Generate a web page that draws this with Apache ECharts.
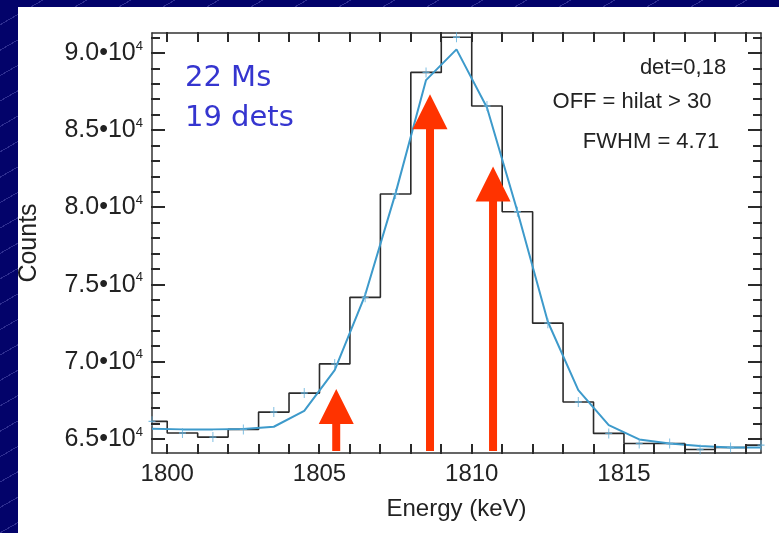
<!DOCTYPE html>
<html><head><meta charset="utf-8">
<script src="https://cdn.jsdelivr.net/npm/echarts@6/dist/echarts.min.js"></script>
<style>
html,body{margin:0;padding:0;width:779px;height:533px;overflow:hidden;}
body{background-color:#03036a;background-image:repeating-linear-gradient(150deg, rgba(0,0,0,0) 0px, rgba(0,0,0,0) 21px, rgba(100,100,190,0.45) 21px, rgba(100,100,190,0.45) 22px);}
#panel{position:absolute;left:18px;top:7px;width:761px;height:526px;background:#ffffff;}
#chart{position:absolute;left:0;top:0;width:779px;height:533px;}
</style></head><body><div id="panel"></div><div id="chart"></div>
<script>
// ---- data ----
const energy = [1799.5,1800.5,1801.5,1802.5,1803.5,1804.5,1805.5,1806.5,1807.5,1808.5,1809.5,1810.5,1811.5,1812.5,1813.5,1814.5,1815.5,1816.5,1817.5,1818.5,1819.5];
const counts = [66150,65400,65130,65630,66750,67980,69870,74180,80870,88750,91020,86570,79720,72510,67400,65370,64720,64720,64330,64460,64610];
const fit    = [65670,65630,65630,65650,65800,66830,69470,74330,80930,88250,90240,86480,79760,72600,68170,65900,64980,64720,64550,64460,64460];
const arrowX   = [1805.55, 1808.63, 1810.7];
const arrowTop = [68250, 87340, 82660];
const xRange = [1799.5, 1819.5];
const yRange = [64100, 91300];
const xLabelTicks = [1800,1805,1810,1815];
const xMinorTicks = [1800,1801,1802,1803,1804,1805,1806,1807,1808,1809,1810,1811,1812,1813,1814,1815,1816,1817,1818,1819];
const yMajorTicks = [65000,70000,75000,80000,85000,90000];
const yMinorTicks = [65000,66000,67000,68000,69000,70000,71000,72000,73000,74000,75000,76000,77000,78000,79000,80000,81000,82000,83000,84000,85000,86000,87000,88000,89000,90000,91000];
const xName = 'Energy (keV)';
const yName = 'Counts';
const noteLeft = ['22 Ms','19 dets'];
const noteRight = ['det=0,18','OFF = hilat > 30','FWHM = 4.71'];

// ---- chart ----
const FONT = "'Liberation Sans', Arial, Helvetica, sans-serif";
const AXC = '#333333';
const TICKC = '#2a2a2a';
const chart = echarts.init(document.getElementById('chart'), null, {renderer:'canvas'});
const axLine = {show:true, onZero:false, lineStyle:{color:AXC, width:1.5}};
function xAx(pos, showLabel){
  return {type:'value', position:pos, min:xRange[0], max:xRange[1],
    axisLine:axLine,
    axisTick:{show:false},
    axisLabel:{show:showLabel, customValues:xLabelTicks, fontSize:24, color:'#222', fontFamily:FONT, margin:9,
      formatter:(v)=>String(v)},
    splitLine:{show:false},
    name: showLabel ? xName : '', nameLocation:'middle', nameGap:44,
    nameTextStyle:{fontSize:24, color:'#222', fontFamily:FONT}};
}
function yAx(pos, showLabel){
  return {type:'value', position:pos, min:yRange[0], max:yRange[1],
    axisLine:axLine,
    axisTick:{show:false},
    axisLabel:{show:showLabel, customValues:yMajorTicks, margin:9,
      formatter:(v)=> '{b|' + (v/1e4).toFixed(1) + '\u202210}{s|4}',
      rich:{b:{fontSize:25, lineHeight:27, color:'#222', fontFamily:FONT},
            s:{fontSize:13, lineHeight:13, color:'#222', fontFamily:FONT, verticalAlign:'top'}}},
    splitLine:{show:false},
    name: showLabel ? yName : '', nameLocation:'middle', nameGap:110, nameRotate:90,
    nameTextStyle:{fontSize:25, color:'#222', fontFamily:FONT}};
}
const notes = [
  {type:'text', x:185, y:78, style:{text:noteLeft[0], fontSize:29, fontFamily:"'Comic Sans MS','DejaVu Sans',sans-serif", fill:'#3535cf', align:'left', verticalAlign:'middle'}, z:100},
  {type:'text', x:185, y:118, style:{text:noteLeft[1], fontSize:29, fontFamily:"'Comic Sans MS','DejaVu Sans',sans-serif", fill:'#3535cf', align:'left', verticalAlign:'middle'}, z:100},
  {type:'text', x:683, y:68, style:{text:noteRight[0], fontSize:22, fontFamily:FONT, fill:'#222', align:'center', verticalAlign:'middle'}, z:100},
  {type:'text', x:632, y:102, style:{text:noteRight[1], fontSize:22, fontFamily:FONT, fill:'#222', align:'center', verticalAlign:'middle'}, z:100},
  {type:'text', x:651, y:142, style:{text:noteRight[2], fontSize:22, fontFamily:FONT, fill:'#222', align:'center', verticalAlign:'middle'}, z:100}
];
const option = {
  animation:false,
  backgroundColor:'transparent',
  grid:{left:152, right:18, top:33, bottom:80, containLabel:false},
  xAxis:[xAx('bottom', true), xAx('top', false)],
  yAxis:[yAx('left', true), yAx('right', false)],
  graphic:notes,
  series:[
    {name:'data', type:'line', step:'middle', xAxisIndex:0, yAxisIndex:0, symbol:'none',
     data: energy.map((e,i)=>[e, counts[i]]), lineStyle:{color:'#2b2b2b', width:1.6}, z:2},
    {name:'fit', type:'line', xAxisIndex:0, yAxisIndex:0, symbol:'none',
     data: energy.map((e,i)=>[e, fit[i]]), lineStyle:{color:'#3d9acb', width:2}, z:3},
    {name:'points', type:'scatter', xAxisIndex:0, yAxisIndex:0,
     symbol:'path://M5,0L5,10M0,5L10,5', symbolSize:[7,10],
     itemStyle:{color:'rgba(0,0,0,0)', borderColor:'#62b0dc', borderWidth:1.2},
     data: energy.map((e,i)=>[e, counts[i]]), z:4},
    {name:'arrows', type:'custom', xAxisIndex:0, yAxisIndex:0, clip:false, z:10,
     data: arrowX.map((x,i)=>[x, arrowTop[i]]),
     renderItem:(params, api)=>{
       const top = api.coord([api.value(0), api.value(1)]);
       const bot = api.coord([api.value(0), yRange[0]]);
       const hl = 35, hw = 17.5, sw = 4;
       return {type:'group', children:[
         {type:'rect', shape:{x:top[0]-sw, y:top[1]+hl-1, width:2*sw, height:(bot[1]-2)-(top[1]+hl-1)}, style:{fill:'#ff3300'}},
         {type:'polygon', shape:{points:[[top[0],top[1]],[top[0]-hw,top[1]+hl],[top[0]+hw,top[1]+hl]]}, style:{fill:'#ff3300'}}
       ]};
     }}
  ]
};
chart.setOption(option);

// inward tick marks on all four sides, placed through the chart's own scales
const tickEls = [];
try {
  const toPx = (x, y) => chart.convertToPixel({xAxisIndex:0, yAxisIndex:0}, [x, y]);
  const c0 = toPx(xRange[0], yRange[0]), c1 = toPx(xRange[1], yRange[1]);
  const gL = c0[0], gB = c0[1], gR = c1[0], gT = c1[1];
  const tw = 2;
  const tk = (x1, y1, x2, y2) => {
    tickEls.push({type:'rect', shape:{x:Math.round(Math.min(x1,x2)-tw/2), y:Math.round(Math.min(y1,y2)-tw/2), width:Math.abs(x2-x1)+tw, height:Math.abs(y2-y1)+tw}, style:{fill:TICKC}, z:200});
  };
  xMinorTicks.forEach(v=>{ const p = toPx(v, yRange[0])[0]; tk(p, gB, p, gB-8); tk(p, gT, p, gT+8); });
  yMinorTicks.forEach(v=>{ const p = toPx(xRange[0], v)[1]; const len = yMajorTicks.indexOf(v) >= 0 ? 12 : 7; tk(gL, p, gL+len, p); tk(gR, p, gR-len, p); });
} catch (e) {}
chart.setOption({graphic: notes.concat(tickEls)});
</script></body></html>
